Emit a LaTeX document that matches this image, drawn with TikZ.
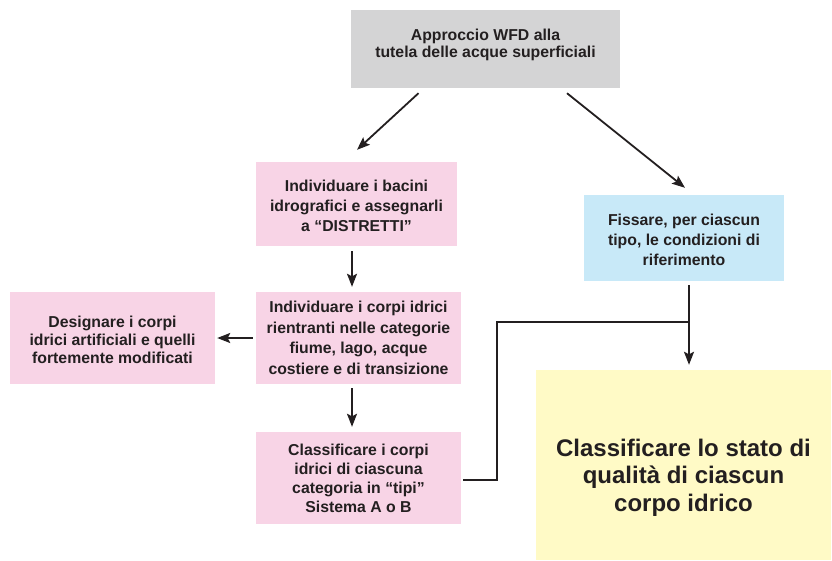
\documentclass[tikz,border=0pt]{standalone}
\usepackage{fontspec}
\setmainfont{Liberation Sans}
\usetikzlibrary{arrows.meta, positioning}
\definecolor{boxgray}{HTML}{D4D4D5}
\definecolor{boxpink}{HTML}{F8D4E6}
\definecolor{boxblue}{HTML}{C8E9F8}
\definecolor{boxyellow}{HTML}{FFFAC6}
\definecolor{inkdark}{HTML}{231F20}

\begin{document}
\begin{tikzpicture}[
  x=1pt, y=-1pt,
  >={Stealth[length=13pt, width=10pt, inset=2.5pt]},
  box/.style={rectangle, inner sep=2pt, align=center, text=inkdark,
    font=\fontsize{15.8}{20}\selectfont\bfseries},
  pinkbox/.style={box, fill=boxpink, minimum width=205pt, minimum height=92pt},
  arr/.style={->, draw=inkdark, line width=1.8pt},
  link/.style={draw=inkdark, line width=1.8pt}
]
\useasboundingbox (0,0) rectangle (832,560);

% ---- Boxes ----
\node[box, fill=boxgray, minimum width=269pt, minimum height=78pt,
  font=\fontsize{15.8}{17}\selectfont\bfseries] (wfd) at (485.5,49)
  {Approccio WFD alla\\tutela delle acque superficiali\rule[-12pt]{0pt}{0pt}};

\node[pinkbox, minimum width=201pt, minimum height=84pt] (bacini) at (356.5,204)
  {\rule{0pt}{16pt}Individuare i bacini\\idrografici e assegnarli\\a ``DISTRETTI''};

\node[box, fill=boxblue, minimum width=200pt, minimum height=86pt] (rifer) at (684,238)
  {\rule{0pt}{16pt}Fissare, per ciascun\\tipo, le condizioni di\\riferimento};

\node[pinkbox, font=\fontsize{15.8}{20.5}\selectfont\bfseries] (corpi) at (358.5,338)
  {Individuare i corpi idrici\\rientranti nelle categorie\\fiume, lago, acque\\costiere e di transizione};

\node[pinkbox, font=\fontsize{15.8}{18}\selectfont\bfseries] (artif) at (112.5,338)
  {\rule{0pt}{16pt}Designare i corpi\\idrici artificiali e quelli\\fortemente modificati};

\node[pinkbox, font=\fontsize{15.8}{19}\selectfont\bfseries] (tipi) at (358.5,478)
  {Classificare i corpi\\idrici di ciascuna\\categoria in ``tipi''\\Sistema A o B};

\node[box, fill=boxyellow, minimum width=295pt, minimum height=190pt,
  font=\fontsize{24}{27.5}\selectfont\bfseries] (stato) at (683.5,465)
  {\rule{0pt}{42pt}Classificare lo stato di\\qualità di ciascun\\corpo idrico};

% ---- Arrows ----
\draw[arr] ([xshift=-67pt, yshift=-5pt]wfd.south) -- ([xshift=0.5pt, yshift=12pt]bacini.north);
\draw[arr] ([xshift=81.5pt, yshift=-5pt]wfd.south) -- ([xshift=1pt, yshift=7pt]rifer.north);
\draw[arr, shorten <=5pt, shorten >=5pt] ([xshift=-4.5pt]bacini.south) -- ([xshift=-6.5pt]corpi.north);
\draw[arr, shorten <=3pt, shorten >=2pt] (corpi.west) -- (artif.east);
\draw[arr, shorten <=4pt, shorten >=5pt] ([xshift=-6.5pt]corpi.south) -- ([xshift=-6.5pt]tipi.north);
\draw[arr, shorten <=4pt, shorten >=5pt] ([xshift=5pt]rifer.south) -- ([xshift=5.5pt]stato.north);

% ---- Link from types to quality ----
\coordinate (join) at (689,322);
\draw[link, shorten <=2pt] ([yshift=-2pt]tipi.east) -- ++(36,0) |- (join);

\end{tikzpicture}
\end{document}
